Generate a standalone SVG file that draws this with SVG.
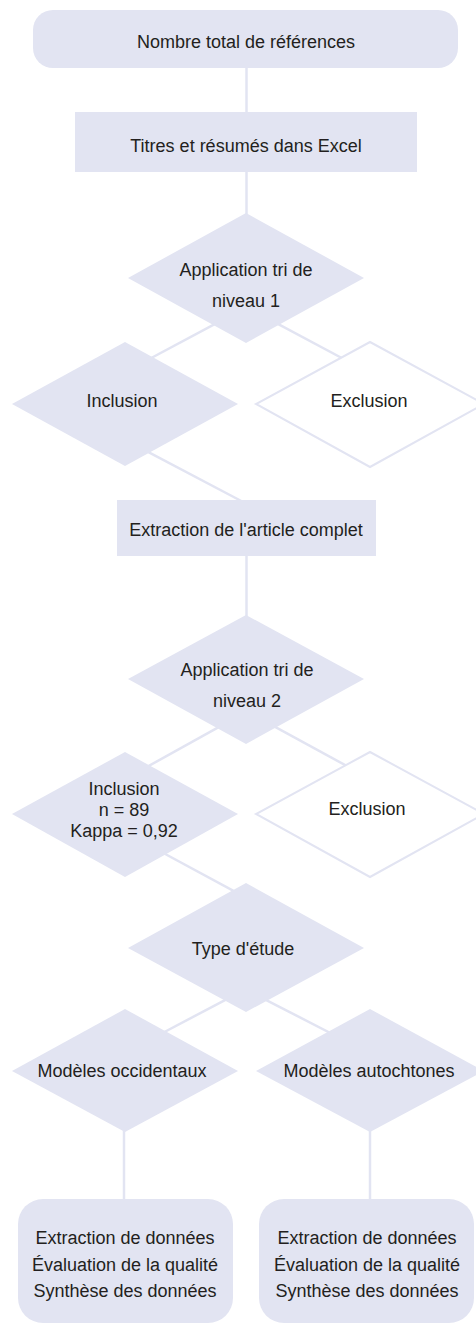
<svg xmlns="http://www.w3.org/2000/svg" width="476" height="1323" viewBox="0 0 476 1323">
<style>
.n{fill:#e2e4f2;}
.w{fill:#ffffff;stroke:#e2e4f2;stroke-width:2;}
.c line{stroke:#e2e4f2;stroke-width:2.5;fill:none;}
text{font-family:"Liberation Sans",Arial,sans-serif;font-size:18px;fill:#231f20;text-anchor:middle;}
</style>
<rect width="476" height="1323" fill="#ffffff"/>
<g id="connectors" class="c">
<line x1="246.5" y1="60" x2="246.5" y2="120"/>
<line x1="246.5" y1="165" x2="246.5" y2="220"/>
<line x1="225" y1="318.6" x2="140" y2="364"/>
<line x1="268" y1="318.6" x2="353" y2="364"/>
<line x1="138" y1="446.7" x2="246" y2="503.5"/>
<line x1="246.5" y1="550" x2="246.5" y2="622"/>
<line x1="229" y1="721.4" x2="136" y2="773"/>
<line x1="265" y1="721.4" x2="356" y2="771"/>
<line x1="155" y1="848.5" x2="246" y2="897.7"/>
<line x1="234" y1="995.3" x2="155" y2="1037"/>
<line x1="258" y1="995.8" x2="340" y2="1038"/>
<line x1="124" y1="1125" x2="124" y2="1205"/>
<line x1="370" y1="1125" x2="370" y2="1205"/>
</g>
<g id="n-total">
<rect class="n" x="33" y="10" width="425" height="58" rx="20"/>
<text x="246" y="48">Nombre total de références</text>
</g>
<g id="n-titres">
<rect class="n" x="75" y="112" width="342" height="60"/>
<text x="246" y="152">Titres et résumés dans Excel</text>
</g>
<g id="n-tri1">
<polygon class="n" points="246,213 364,278 246,343 128,278"/>
<text x="246" y="276">Application tri de</text>
<text x="246" y="307">niveau 1</text>
</g>
<g id="n-incl1">
<polygon class="n" points="125,342 238,404 125,466 12,404"/>
<text x="122" y="407">Inclusion</text>
</g>
<g id="n-excl1">
<polygon class="w" points="370,342 484,404 370,467 256,404"/>
<text x="369" y="407">Exclusion</text>
</g>
<g id="n-extraction">
<rect class="n" x="117" y="500" width="259" height="56"/>
<text x="246" y="536">Extraction de l'article complet</text>
</g>
<g id="n-tri2">
<polygon class="n" points="246,615 364,679 246,744 128,679"/>
<text x="247" y="676">Application tri de</text>
<text x="247" y="707">niveau 2</text>
</g>
<g id="n-incl2">
<polygon class="n" points="125,752 238,814 125,877 12,814"/>
<text x="124" y="795">Inclusion</text>
<text x="124" y="816">n = 89</text>
<text x="124" y="837">Kappa = 0,92</text>
</g>
<g id="n-excl2">
<polygon class="w" points="370,752 484,814 370,877 256,814"/>
<text x="367" y="815">Exclusion</text>
</g>
<g id="n-type">
<polygon class="n" points="246,883 364,948 246,1012 128,948"/>
<text x="243" y="955">Type d'étude</text>
</g>
<g id="n-occ">
<polygon class="n" points="125,1009 238,1071 125,1132 12,1071"/>
<text x="122" y="1077">Modèles occidentaux</text>
</g>
<g id="n-auto">
<polygon class="n" points="370,1009 484,1071 370,1132 256,1071"/>
<text x="369" y="1077">Modèles autochtones</text>
</g>
<g id="n-synth1">
<rect class="n" x="18" y="1199" width="215" height="124" rx="25"/>
<text x="125" y="1244">Extraction de données</text>
<text x="125" y="1271">Évaluation de la qualité</text>
<text x="125" y="1297">Synthèse des données</text>
</g>
<g id="n-synth2">
<rect class="n" x="259" y="1199" width="215" height="124" rx="25"/>
<text x="367" y="1244">Extraction de données</text>
<text x="367" y="1271">Évaluation de la qualité</text>
<text x="367" y="1297">Synthèse des données</text>
</g>
</svg>
